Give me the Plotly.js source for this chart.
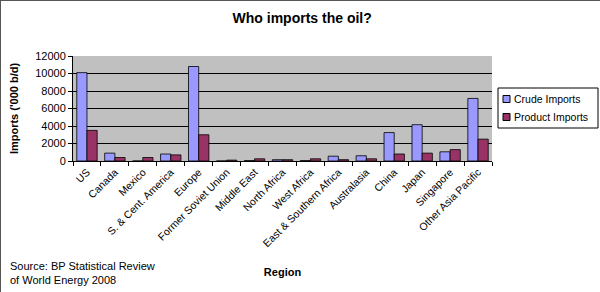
<!DOCTYPE html>
<html><head><meta charset="utf-8">
<script src="https://cdn.plot.ly/plotly-3.0.1.min.js"></script>
<style>body{margin:0;padding:0;background:#fff}#c{width:600px;height:292px}</style>
</head><body><div id="c"></div>
<script>
const regions = ["US","Canada","Mexico","S. & Cent. America","Europe","Former Soviet Union","Middle East","North Africa","West Africa","East & Southern Africa","Australasia","China","Japan","Singapore","Other Asia Pacific"];
const crudeImports = [10100, 900, 0, 800, 10800, 0, 50, 150, 50, 550, 600, 3250, 4150, 1050, 7150];
const productImports = [3500, 400, 400, 700, 3000, 100, 250, 150, 250, 150, 250, 800, 900, 1300, 2500];
const yTicks = [0,2000,4000,6000,8000,10000,12000];
const seriesNames = ["Crude Imports","Product Imports"];
const seriesColors = ["#9999ff","#993366"];

const F = "Liberation Sans, Arial, sans-serif";
const W = 600, H = 292, L = 72, R = 109, T = 55, B = 132;
const pw = W - L - R, ph = H - T - B;
const px = v => (v - L) / pw;          // pixel x -> paper
const py = v => (H - B - v) / ph;      // pixel y -> paper

const data = seriesNames.map((n, i) => ({
  type:"bar", name:n, x:regions, y:[crudeImports, productImports][i],
  marker:{color:seriesColors[i], line:{color:"#000000", width:0.8}}
}));

const legendShapes = [
  {type:"rect", xref:"paper", yref:"paper", x0:px(497), x1:px(597), y0:py(127), y1:py(87),
   line:{color:"#000", width:1}, fillcolor:"#fff"}
];
const legendText = [];
seriesNames.forEach((n, i) => {
  const cy = 98 + i * 18;
  legendShapes.push({type:"rect", xref:"paper", yref:"paper", x0:px(502), x1:px(509),
    y0:py(cy + 3.5), y1:py(cy - 3.5), line:{color:"#000", width:1}, fillcolor:seriesColors[i]});
  legendText.push({text:n, xref:"paper", yref:"paper", x:px(511), y:py(cy), xanchor:"left",
    yanchor:"middle", showarrow:false, font:{family:F, size:10.5}});
});

const layout = {
 width:W, height:H,
 margin:{l:L, r:R, t:T, b:B},
 paper_bgcolor:"#ffffff", plot_bgcolor:"#c0c0c0",
 font:{family:F, size:10, color:"#000"},
 title:{text:"<b>Who imports the oil?</b>", font:{family:F, size:14}, x:0.502, xanchor:"center", y:0.94, yanchor:"middle"},
 barmode:"group", bargap:0.27, bargroupgap:0,
 showlegend:false,
 xaxis:{tickangle:-45, tickfont:{family:F, size:10.5}, showline:true, linecolor:"#000", linewidth:1,
   ticks:"outside", ticklen:4, tickcolor:"#000", automargin:false, showgrid:false,
   tickson:"boundaries",
   title:{text:"<b>Region</b>", font:{family:F, size:11}, standoff:20}},
 yaxis:{range:[0,12000], tickvals:yTicks, ticktext:yTicks.map(String), tickfont:{family:F, size:11},
   showgrid:true, gridcolor:"#000", gridwidth:1, showline:true, linecolor:"#000", linewidth:1,
   ticks:"outside", ticklen:4, tickcolor:"#000", zeroline:false, automargin:false,
   title:{text:"<b>Imports ('000 b/d)</b>", font:{family:F, size:11}, standoff:14}},
 annotations:[
  {text:"Source: BP Statistical Review<br>of World Energy 2008", xref:"paper", yref:"paper",
   x:px(7), y:py(272), xanchor:"left", yanchor:"middle", align:"left", showarrow:false,
   font:{family:F, size:11}}
 ].concat(legendText),
 shapes:legendShapes
};
Plotly.newPlot("c", data, layout, {displayModeBar:false, staticPlot:true});
const el = document.getElementById("c");
el.style.boxSizing = "border-box";
el.style.border = "1px solid #555";
</script>
</body></html>
